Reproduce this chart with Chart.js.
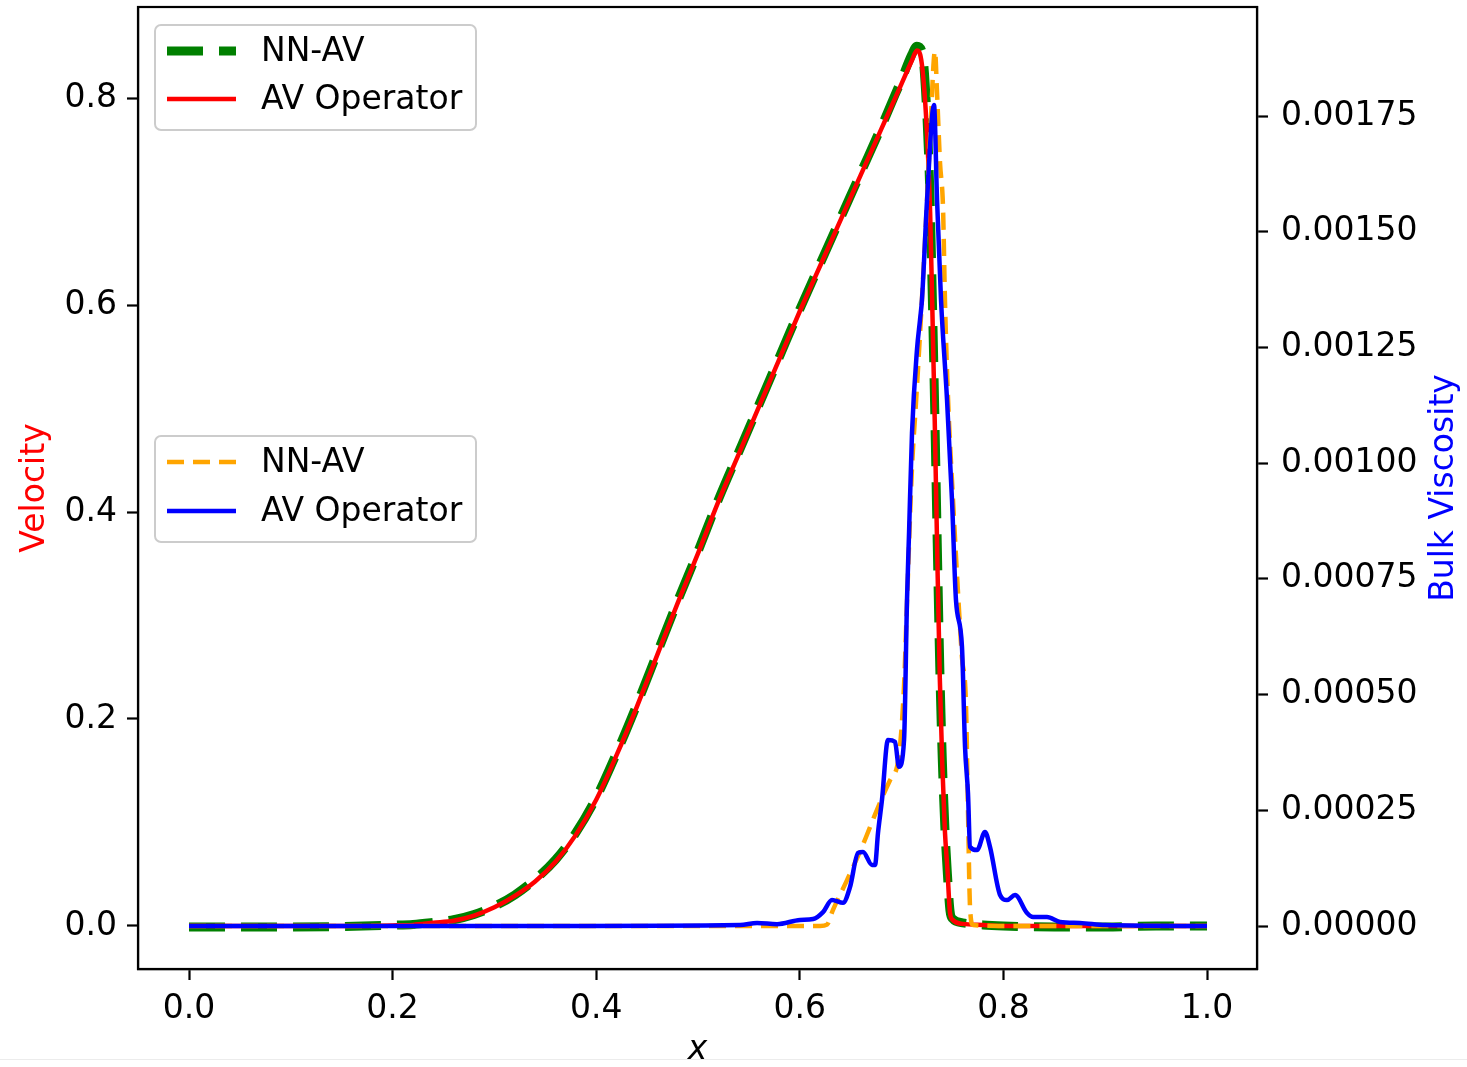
<!DOCTYPE html>
<html>
<head>
<meta charset="utf-8">
<script src="https://cdn.jsdelivr.net/npm/chart.js@4.4.1/dist/chart.umd.min.js"></script>
<style>
  body { margin: 0; background: #fff; }
  #wrap { position: relative; width: 1467px; height: 1067px; }
  #edge { position: absolute; left: 0; top: 1059px; width: 1467px; height: 1px; background: #ececec; }
</style>
</head>
<body>
<div id="wrap">
  <canvas id="chart" width="1467" height="1067"></canvas>
  <div id="edge"></div>
</div>
<script>
// velocity (left axis)
const velX = [0, 0.05, 0.1, 0.15, 0.2, 0.22, 0.24, 0.26, 0.28, 0.30, 0.32, 0.34, 0.36, 0.38, 0.40, 0.42, 0.44, 0.46, 0.48, 0.50,
  0.52, 0.54, 0.56, 0.58, 0.60, 0.62, 0.64, 0.66, 0.68, 0.69, 0.70, 0.71, 0.715, 0.72, 0.725, 0.728, 0.73, 0.7325, 0.735, 0.7375,
  0.74, 0.7425, 0.745, 0.7475, 0.75, 0.76, 0.78, 0.80, 0.85, 0.90, 0.95, 1.0];
const velAV = [0, 0, 0, 0, 0.0005, 0.001, 0.003, 0.005, 0.010, 0.018, 0.029, 0.043, 0.062, 0.088, 0.122, 0.165, 0.212, 0.262, 0.312, 0.360,
  0.410, 0.456, 0.502, 0.548, 0.594, 0.638, 0.682, 0.726, 0.770, 0.792, 0.814, 0.836, 0.846, 0.832, 0.765, 0.69, 0.605, 0.49, 0.36, 0.24,
  0.155, 0.092, 0.055, 0.013, 0.006, 0.002, 0.001, 0, 0, 0, 0, 0];
const velNN = [-0.001, -0.001, -0.001, -0.0005, 0.0008, 0.0015, 0.0035, 0.006, 0.011, 0.019, 0.030, 0.045, 0.064, 0.090, 0.124, 0.167, 0.214, 0.264, 0.314, 0.362,
  0.412, 0.458, 0.504, 0.550, 0.596, 0.640, 0.684, 0.728, 0.772, 0.795, 0.818, 0.842, 0.850, 0.845, 0.78, 0.70, 0.615, 0.50, 0.37, 0.25,
  0.16, 0.095, 0.05, 0.015, 0.007, 0.003, 0.001, 0, -0.001, -0.001, 0, 0];

// bulk viscosity (right axis)
const viscX = [0, 0.36, 0.5413, 0.558, 0.5776, 0.6002, 0.613, 0.6228, 0.6316, 0.6424, 0.6493, 0.6572, 0.6621, 0.6709, 0.6739,
  0.6768, 0.6807, 0.6866, 0.6935, 0.6974, 0.7024, 0.7053, 0.7073, 0.7102, 0.7151, 0.7181, 0.72, 0.725, 0.7318, 0.7348,
  0.7387, 0.7446, 0.7495, 0.7534, 0.7593, 0.7623, 0.7652, 0.7672, 0.7741, 0.7819, 0.7868, 0.7967, 0.8035, 0.8114, 0.8232,
  0.8291, 0.8428, 0.8556, 0.8752, 0.9, 1.0];
const viscAV = [0, 0, 0.000002, 0.0000065, 0.000004, 0.000013, 0.000015, 0.00003, 0.000056, 0.00005, 0.000084, 0.000158, 0.00016, 0.000132, 0.000132,
  0.000201, 0.000272, 0.000402, 0.000398, 0.000344, 0.000402, 0.000704, 0.000849, 0.001065, 0.001245, 0.00131, 0.001353, 0.001569, 0.001774, 0.001569,
  0.001353, 0.001137, 0.00092, 0.000704, 0.000603, 0.000387, 0.000287, 0.000171, 0.000164, 0.000203, 0.000171, 0.000067, 0.000056, 0.000067, 0.000028,
  0.0000194, 0.0000194, 0.0000086, 0.0000065, 0.000002, 0];
const viscNNX = [0, 0.62, 0.6267, 0.6326, 0.6464, 0.6611, 0.6758, 0.6886, 0.6955, 0.6984, 0.7024, 0.7053, 0.7102, 0.7141, 0.7181,
  0.723, 0.7279, 0.7328, 0.7348, 0.7377, 0.7407, 0.7426, 0.7456, 0.7505, 0.7554, 0.7593, 0.7632, 0.7652, 0.7672, 0.7701, 0.8, 1.0];
const viscNN = [0, 0, 0.000003, 0.000035, 0.000099, 0.000171, 0.000251, 0.000315, 0.000344, 0.000387, 0.00052, 0.0007, 0.00099, 0.00113, 0.00128,
  0.00148, 0.0017, 0.00189, 0.0018, 0.00165, 0.00155, 0.00135, 0.00114, 0.00092, 0.00072, 0.00058, 0.00048, 0.00025, 0.00004, 0.000002, 0, 0];

const xTicks = [0, 0.2, 0.4, 0.6, 0.8, 1.0];
const velTicks = [0, 0.2, 0.4, 0.6, 0.8];
const viscTicks = [0, 0.00025, 0.0005, 0.00075, 0.001, 0.00125, 0.0015, 0.00175];

const FONT = "'DejaVu Sans', 'Liberation Sans', sans-serif";
const FS = 33;
Chart.defaults.font.family = FONT;
Chart.defaults.font.size = FS;
Chart.defaults.color = '#000';

const pts = (xs, ys) => xs.map((x, i) => ({ x: x, y: ys[i] }));

function axisStyle(values, digits, size, pad) {
  return {
    grid: { drawOnChartArea: false, drawTicks: true, tickLength: 11, tickWidth: 2.2, color: '#000' },
    border: { display: true, color: '#000', width: 2.2 },
    ticks: { padding: pad, callback: v => v.toFixed(digits) },
    afterBuildTicks: s => { s.ticks = values.map(v => ({ value: v })); },
    afterFit: s => {
      if (size.w) s.width = size.w;
      if (size.h) s.height = size.h;
      s.paddingTop = 0; s.paddingBottom = 0; s.paddingLeft = 0; s.paddingRight = 0;
    }
  };
}

const sampleLine = (ctx, x0, x1, y, color, lw, dash) => {
  ctx.save();
  ctx.strokeStyle = color;
  ctx.lineWidth = lw;
  ctx.lineCap = 'butt';
  ctx.setLineDash(dash);
  ctx.beginPath();
  ctx.moveTo(x0, y);
  ctx.lineTo(x1, y);
  ctx.stroke();
  ctx.restore();
};

function legendBox(ctx, x, y, w, h, items) {
  ctx.save();
  ctx.beginPath();
  ctx.roundRect(x, y, w, h, 6);
  ctx.fillStyle = 'rgba(255,255,255,0.8)';
  ctx.fill();
  ctx.strokeStyle = '#cccccc';
  ctx.lineWidth = 2;
  ctx.stroke();
  ctx.fillStyle = '#000';
  ctx.font = FS + 'px ' + FONT;
  ctx.textBaseline = 'middle';
  items.forEach(it => {
    sampleLine(ctx, x + 12, x + 81, it.y, it.color, it.lw, it.dash);
    ctx.fillText(it.text, x + 106, it.y + 1);
  });
  ctx.restore();
}

const decor = {
  id: 'decor',
  afterDraw(chart) {
    const ctx = chart.ctx;
    const a = chart.chartArea;
    ctx.save();
    ctx.strokeStyle = '#000';
    ctx.lineWidth = 2.2;
    ctx.strokeRect(a.left, a.top, a.right - a.left, a.bottom - a.top);
    // right axis title, reading bottom to top
    ctx.translate(1444, (a.top + a.bottom) / 2);
    ctx.rotate(-Math.PI / 2);
    ctx.fillStyle = 'blue';
    ctx.font = FS + 'px ' + FONT;
    ctx.textAlign = 'center';
    ctx.textBaseline = 'middle';
    ctx.fillText('Bulk Viscosity', 0, 0);
    ctx.restore();

    legendBox(ctx, 155, 25, 321, 105, [
      { y: 51, color: 'green', lw: 9, dash: [36, 16], text: 'NN-AV' },
      { y: 99, color: 'red', lw: 4.5, dash: [], text: 'AV Operator' }
    ]);
    legendBox(ctx, 155, 436, 321, 106, [
      { y: 462, color: 'orange', lw: 4.5, dash: [17, 9], text: 'NN-AV' },
      { y: 511, color: 'blue', lw: 4.5, dash: [], text: 'AV Operator' }
    ]);
  }
};

const xAxis = axisStyle(xTicks, 1, { h: 98 }, 10);
const yAxis = axisStyle(velTicks, 1, { w: 138 }, 10);
const y1Axis = axisStyle(viscTicks, 5, { w: 210 }, 13);

new Chart(document.getElementById('chart'), {
  type: 'line',
  data: {
    datasets: [
      { label: 'NN-AV', data: pts(velX, velNN), yAxisID: 'y', borderColor: 'green', borderWidth: 9, borderDash: [36, 16], order: 4 },
      { label: 'AV Operator', data: pts(velX, velAV), yAxisID: 'y', borderColor: 'red', borderWidth: 4.5, order: 3 },
      { label: 'NN-AV', data: pts(viscNNX, viscNN), yAxisID: 'y1', borderColor: 'orange', borderWidth: 4.5, borderDash: [17, 9], order: 2 },
      { label: 'AV Operator', data: pts(viscX, viscAV), yAxisID: 'y1', borderColor: 'blue', borderWidth: 4.5, order: 1 }
    ]
  },
  options: {
    responsive: false,
    animation: false,
    layout: { padding: { top: 7, left: 0, right: 0, bottom: 0 } },
    elements: { point: { radius: 0 }, line: { cubicInterpolationMode: 'monotone', borderCapStyle: 'butt', fill: false } },
    plugins: { legend: { display: false }, tooltip: { enabled: false } },
    scales: {
      x: Object.assign({
        type: 'linear', position: 'bottom', min: -0.0501, max: 1.0491,
        title: { display: true, text: 'x', font: { size: FS, style: 'italic', lineHeight: 1 }, padding: { top: 0, bottom: 0 } }
      }, xAxis),
      y: Object.assign({
        type: 'linear', position: 'left', min: -0.0416, max: 0.888,
        title: { display: true, text: 'Velocity', color: 'red', font: { size: FS, lineHeight: 1 }, padding: { top: 19, bottom: 0 } }
      }, yAxis),
      y1: Object.assign({
        type: 'linear', position: 'right', min: -0.0000929, max: 0.0019855
      }, y1Axis)
    }
  },
  plugins: [decor]
});
</script>
</body>
</html>
